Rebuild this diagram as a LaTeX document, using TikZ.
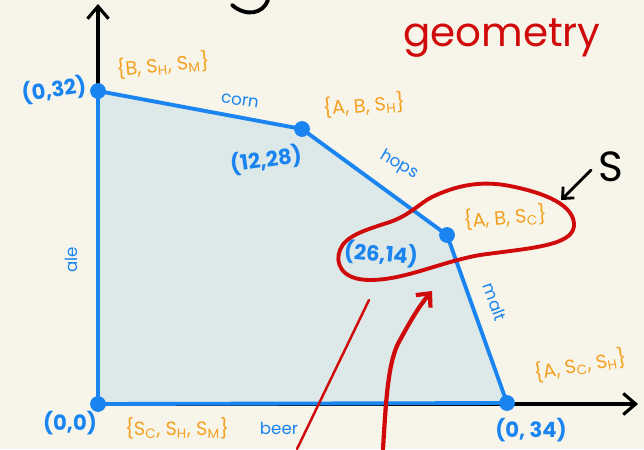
\documentclass[tikz,border=0pt]{standalone}
\usepackage{fontspec}
\setmainfont{Poppins}
\usetikzlibrary{arrows.meta, positioning, calc}
\definecolor{paper}{HTML}{F7F5EA}
\definecolor{lpblue}{HTML}{1A84F0}
\definecolor{lpfill}{HTML}{DDE8E8}
\definecolor{setorange}{HTML}{F5A020}
\definecolor{inkred}{HTML}{D00A0A}
\tikzset{
  axis/.style    = {-{Straight Barb[length=7pt, width=12pt]}, line width=1.8pt, black},
  edge/.style    = {draw=lpblue, line width=2.2pt, line join=round},
  vtx/.style     = {circle, fill=lpblue, inner sep=0pt, minimum size=9pt},
  pt/.style      = {text=lpblue, font=\bfseries\fontsize{12}{13}\selectfont, inner sep=1pt},
  setlbl/.style  = {text=setorange, font=\fontsize{11}{12}\selectfont, inner sep=1pt},
  edgelbl/.style = {text=lpblue, font=\fontsize{9.5}{10}\selectfont, inner sep=1pt},
  redink/.style  = {draw=inkred, line cap=round, line join=round},
}
\newcommand{\sub}[1]{\textsubscript{#1}}

\begin{document}
\begin{tikzpicture}[x=0.02cm, y=-0.02cm]
  \useasboundingbox[fill=paper] (0,0) rectangle (644,449);

  % feasible region
  \coordinate (o)  at (98,404);
  \coordinate (ya) at (98,91);
  \coordinate (yb) at (302,129);
  \coordinate (yc) at (447,235);
  \coordinate (xa) at (507,403);
  \fill[lpfill] (o) -- (ya) -- (yb) -- (yc) -- (xa) -- cycle;

  % axes
  \coordinate (ytop) at (98,4);
  \coordinate (xend) at (638,404);
  \draw[axis] (o) -- (ytop);
  \draw[axis] (o) -- (xend);

  \draw[edge] (o) -- (ya) -- (yb) -- (yc) -- (xa) -- cycle;
  \foreach \v in {o, ya, yb, yc, xa}
    \node[vtx] (v-\v) at (\v) {};

  % corner points
  \node[pt, rotate=8] (p-ya) at (54,90)  {(0,32)};
  \node[pt, rotate=8] (p-yb) at (266,160) {(12,28)};
  \node[pt, rotate=-5] (p-yc) at (381,254) {(26,14)};
  \node[pt] (p-xa) at (531,430) {(0, 34)};
  \node[pt] (p-o)  at (70,423) {(0,0)};

  % tight sets
  \node[setlbl, rotate=5]  (s-ya) at (163,65)  {\{B, S\sub{H}, S\sub{M}\}};
  \node[setlbl, rotate=5]  (s-yb) at (364,105) {\{A, B, S\sub{H}\}};
  \node[setlbl, rotate=5]  (s-yc) at (505,217) {\{A, B, S\sub{C}\}};
  \node[setlbl, rotate=10] (s-xa) at (580,365) {\{A, S\sub{C}, S\sub{H}\}};
  \node[setlbl]            (s-o)  at (177,428) {\{S\sub{C}, S\sub{H}, S\sub{M}\}};

  % constraint names
  \node[edgelbl, rotate=-8]  (c-corn) at (240,101) {corn};
  \node[edgelbl, rotate=-30] (c-hops) at (399,165) {hops};
  \node[edgelbl, rotate=-70] (c-malt) at (495,302) {malt};
  \node[edgelbl, rotate=90]  (c-ale)  at (71,260)  {ale};
  \node[edgelbl]             (c-beer) at (279,428) {beer};

  % title and set S
  \node[text=inkred, font=\fontsize{23}{24}\selectfont] (title) at (502,38) {geometry};
  \node[font=\fontsize{24}{24}\selectfont] (setS) at (611,167) {S};
  \coordinate (s-tail) at (591,170);
  \coordinate (s-head) at (561,200);
  \draw[-{Straight Barb[length=5pt, width=9pt]}, line width=1.6pt, line cap=round] (s-tail) -- (s-head);
  \draw[line width=2.2pt, line cap=round] (232,5) .. controls (246,17) and (263,14) .. (268,0);

  % loop around the vertex
  \draw[redink, line width=2.2pt] (432,197) .. controls (455,186) and (480,180) .. (510,186)
    .. controls (545,193) and (575,205) .. (574,226)
    .. controls (572,246) and (530,248) .. (480,255)
    .. controls (440,262) and (405,280) .. (370,280)
    .. controls (340,280) and (335,262) .. (340,250)
    .. controls (345,236) and (365,230) .. (390,222)
    .. controls (410,215) and (420,203) .. (432,197);

  % arrows into the loop
  \coordinate (a1-tail) at (297,449);
  \coordinate (a1-head) at (369,300);
  \draw[redink, line width=1.4pt] (a1-tail) -- (a1-head);
  \coordinate (a2-tail) at (383,449);
  \coordinate (a2-head) at (432,291);
  \draw[redink, line width=2.4pt, -{Straight Barb[length=6pt, width=11pt]}]
    (a2-tail) .. controls (386,400) and (388,360) .. (400,340)
    .. controls (412,318) and (420,305) .. (a2-head);
\end{tikzpicture}
\end{document}
